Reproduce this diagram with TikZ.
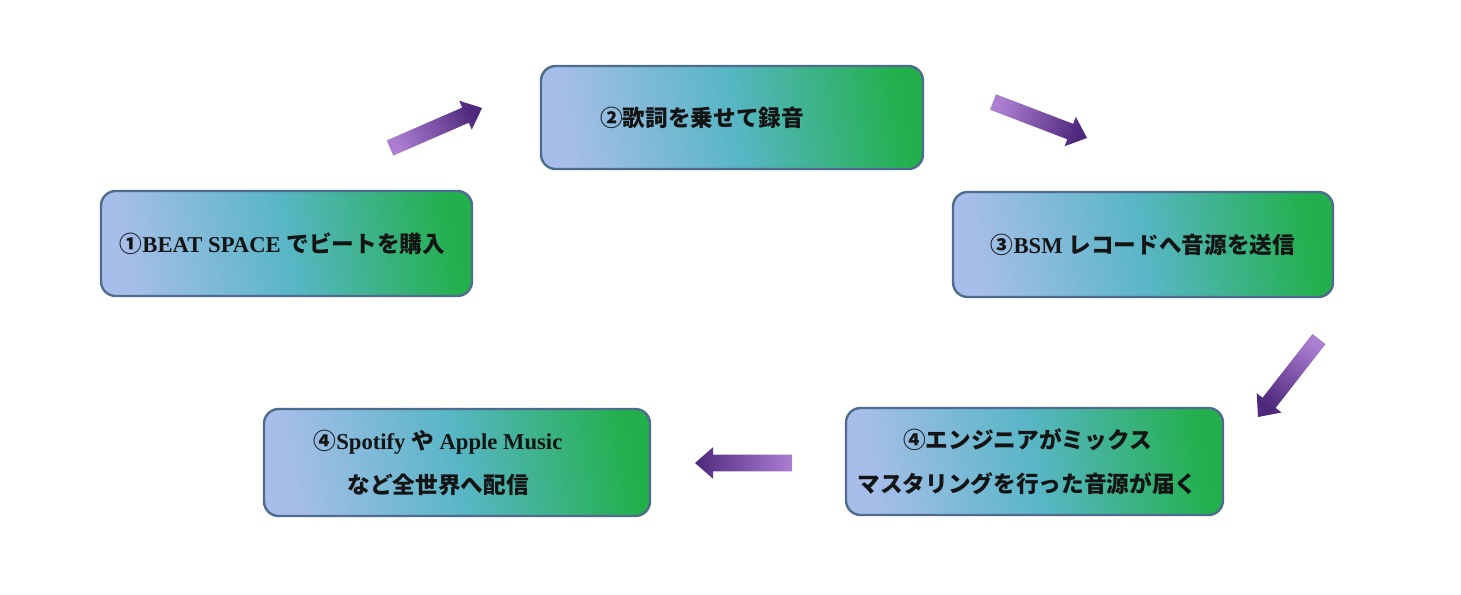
\documentclass[tikz,border=0pt]{standalone}
\usepackage{fontspec}
\setmainfont{Liberation Serif}
\newfontfamily\jp{Noto Sans CJK JP}
\newcommand\J[1]{{\jp #1}}
\usetikzlibrary{calc}
\definecolor{boxL}{RGB}{168,190,234}
\definecolor{boxM}{RGB}{88,182,198}
\definecolor{boxR}{RGB}{34,176,76}
\definecolor{boxedge}{RGB}{78,108,142}
\definecolor{arrowlight}{RGB}{172,126,210}
\definecolor{arrowdark}{RGB}{78,40,124}
\tikzset{
  box/.style={draw=boxedge, line width=1.8pt, rounded corners=11pt,
    left color=boxL, right color=boxR, middle color=boxM, shading angle=100,
    inner sep=0pt, align=center, text=black!92,
    font=\fontsize{17}{33}\selectfont\bfseries},
}
\newcommand\blockarrow[3]{%
  \coordinate (#2-base) at ($(#2)!13.5pt!(#1)$);
  \path[top color=arrowdark, bottom color=arrowlight, shading angle=#3]
    ($(#1)!6.2pt!90:(#2)$) -- ($(#2-base)!6.2pt!90:(#2)$) --
    ($(#2-base)!11.8pt!90:(#2)$) -- (#2) --
    ($(#2-base)!11.8pt!-90:(#2)$) -- ($(#2-base)!6.2pt!-90:(#2)$) --
    ($(#1)!6.2pt!-90:(#2)$) -- cycle;
}
\begin{document}
\begin{tikzpicture}[x=0.75pt,y=-0.75pt]
\useasboundingbox[fill=white] (0,0) rectangle (1461,595);
\node[box, minimum width=278.25pt, minimum height=78.75pt] (b1) at (286.5,243.5)
  {\J{①}BEAT SPACE \J{でビートを購入}\hspace*{6pt}};
\node[box, minimum width=286.5pt, minimum height=77.25pt] (b2) at (732,117.5)
  {\J{②歌詞を乗せて録音}\hspace*{45pt}};
\node[box, minimum width=285pt, minimum height=78.75pt] (b3) at (1143,244.5)
  {\J{③}BSM \J{レコードへ音源を送信}};
\node[box, minimum width=282.75pt, minimum height=80.25pt] (b4) at (1034.5,461.5)
  {\J{④エンジニアがミックス}\hspace*{10.5pt}\\\J{マスタリングを行った音源が届く}\hspace*{10.5pt}};
\node[box, minimum width=289.5pt, minimum height=80.25pt] (b5) at (457,462.5)
  {\J{④}Spotify \J{や} Apple Music\hspace*{28.5pt}\\\J{など全世界へ配信}\hspace*{28.5pt}};
\coordinate (a1t) at (390,148);
\coordinate (a1h) at (482,108);
\coordinate (a2t) at (993,102);
\coordinate (a2h) at (1087,138);
\coordinate (a3t) at (1319,339);
\coordinate (a3h) at (1258,417);
\coordinate (a4t) at (792,463);
\coordinate (a4h) at (695,463);
\blockarrow{a1t}{a1h}{-66.5}
\blockarrow{a2t}{a2h}{-111}
\blockarrow{a3t}{a3h}{142}
\blockarrow{a4t}{a4h}{90}
\end{tikzpicture}
\end{document}
